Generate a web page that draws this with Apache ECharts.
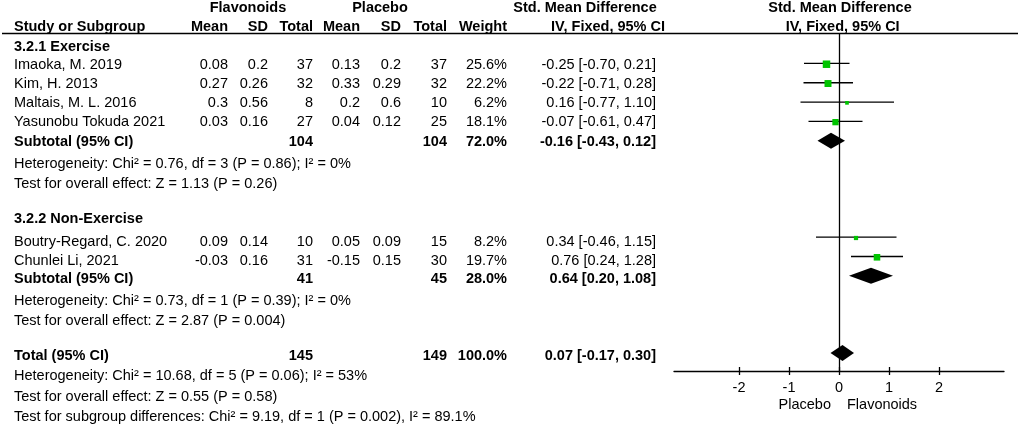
<!DOCTYPE html>
<html>
<head>
<meta charset="utf-8">
<script src="https://cdn.jsdelivr.net/npm/echarts@6/dist/echarts.min.js"></script>
<style>
html,body{margin:0;padding:0;background:#fff;}
#chart{width:1021px;height:426px;}
</style>
</head>
<body>
<div id="chart"></div>
<script>
// ---------- DATA ----------
const studies   = ['Imaoka, M. 2019', 'Kim, H. 2013', 'Maltais, M. L. 2016', 'Yasunobu Tokuda 2021', 'Boutry-Regard, C. 2020', 'Chunlei Li, 2021'];
const studyGroup = [0, 0, 0, 0, 1, 1];
const flavMean  = ['0.08', '0.27', '0.3', '0.03', '0.09', '-0.03'];
const flavSD    = ['0.2', '0.26', '0.56', '0.16', '0.14', '0.16'];
const flavN     = [37, 32, 8, 27, 10, 31];
const placMean  = ['0.13', '0.33', '0.2', '0.04', '0.05', '-0.15'];
const placSD    = ['0.2', '0.29', '0.6', '0.12', '0.09', '0.15'];
const placN     = [37, 32, 10, 25, 15, 30];
const weights   = [25.6, 22.2, 6.2, 18.1, 8.2, 19.7];
const smd       = [-0.25, -0.22, 0.16, -0.07, 0.34, 0.76];
const ciLow     = [-0.70, -0.71, -0.77, -0.61, -0.46, 0.24];
const ciHigh    = [0.21, 0.28, 1.10, 0.47, 1.15, 1.28];

const groupNames   = ['3.2.1 Exercise', '3.2.2 Non-Exercise'];
const subFlavN     = [104, 41];
const subPlacN     = [104, 45];
const subWeight    = [72.0, 28.0];
const subSmd       = [-0.16, 0.64];
const subLow       = [-0.43, 0.20];
const subHigh      = [0.12, 1.08];
const subHetText   = ['Heterogeneity: Chi² = 0.76, df = 3 (P = 0.86); I² = 0%', 'Heterogeneity: Chi² = 0.73, df = 1 (P = 0.39); I² = 0%'];
const subTestText  = ['Test for overall effect: Z = 1.13 (P = 0.26)', 'Test for overall effect: Z = 2.87 (P = 0.004)'];

const totalFlavN = 145, totalPlacN = 149, totalWeight = 100.0;
const totalSmd = 0.07, totalLow = -0.17, totalHigh = 0.30;
const totalTexts = ['Heterogeneity: Chi² = 10.68, df = 5 (P = 0.06); I² = 53%',
                    'Test for overall effect: Z = 0.55 (P = 0.58)',
                    'Test for subgroup differences: Chi² = 9.19, df = 1 (P = 0.002), I² = 89.1%'];

const tickValues = [-2, -1, 0, 1, 2];
const favourLabels = ['Placebo', 'Flavonoids'];
const headers = {
  study: 'Study or Subgroup', flav: 'Flavonoids', plac: 'Placebo', mean: 'Mean', sd: 'SD', total: 'Total',
  weight: 'Weight', smd: 'Std. Mean Difference', method: 'IV, Fixed, 95% CI'
};

// ---------- LAYOUT ----------
const FONT = 'Arial, "Liberation Sans", sans-serif';
const FS = 14.5;
const COL = {name: 14, fMean: 228, fSD: 268, fN: 313, pMean: 360, pSD: 401, pN: 447, w: 507, ci: 656};
const studyTextY = [65, 84, 103.3, 122.3, 241.7, 260.7];
const groupTextY = [46.7, 219];
const subTextY = [141.5, 279];
const subHetY = [164, 300.5];
const subTestY = [183.8, 321];
const totalY = 355.7;
const totalTextY = [376.3, 396.8, 417.3];
const studyRow = [0, 1, 2, 3, 9, 10];
const subRow = [4, 11];
const totalRow = 15;

// ---------- HELPERS ----------
const fmt2 = v => v.toFixed(2);
const ciStr = (m, l, h) => fmt2(m) + ' [' + fmt2(l) + ', ' + fmt2(h) + ']';
const graphics = [];
function txt(s, x, y, align, bold) {
  graphics.push({
    type: 'text', x: x, y: y, silent: true,
    style: {text: String(s), x: 0, y: 0, align: align || 'left', verticalAlign: 'middle',
            fontFamily: FONT, fontSize: FS, fontWeight: bold ? 'bold' : 'normal', fill: '#000'}
  });
}

// headers
txt(headers.flav, 248, 7.8, 'center', true);
txt(headers.plac, 380, 7.8, 'center', true);
txt(headers.smd, 585, 7.8, 'center', true);
txt(headers.smd, 840, 7.8, 'center', true);
txt(headers.study, COL.name, 26.9, 'left', true);
txt(headers.mean, COL.fMean, 26.9, 'right', true);
txt(headers.sd, COL.fSD, 26.9, 'right', true);
txt(headers.total, COL.fN, 26.9, 'right', true);
txt(headers.mean, COL.pMean, 26.9, 'right', true);
txt(headers.sd, COL.pSD, 26.9, 'right', true);
txt(headers.total, COL.pN, 26.9, 'right', true);
txt(headers.weight, COL.w, 26.9, 'right', true);
txt(headers.method, 665, 26.9, 'right', true);
txt(headers.method, 842.7, 26.9, 'center', true);
graphics.push({type: 'line', silent: true, shape: {x1: 2, y1: 33.5, x2: 1018, y2: 33.5},
  style: {stroke: '#000', lineWidth: 1.3}});

// study rows
studies.forEach((s, i) => {
  const y = studyTextY[i];
  txt(s, COL.name, y, 'left');
  txt(flavMean[i], COL.fMean, y, 'right');
  txt(flavSD[i], COL.fSD, y, 'right');
  txt(flavN[i], COL.fN, y, 'right');
  txt(placMean[i], COL.pMean, y, 'right');
  txt(placSD[i], COL.pSD, y, 'right');
  txt(placN[i], COL.pN, y, 'right');
  txt(weights[i].toFixed(1) + '%', COL.w, y, 'right');
  txt(ciStr(smd[i], ciLow[i], ciHigh[i]), COL.ci, y, 'right');
});
// subgroups
groupNames.forEach((g, k) => {
  txt(g, COL.name, groupTextY[k], 'left', true);
  txt('Subtotal (95% CI)', COL.name, subTextY[k], 'left', true);
  txt(subFlavN[k], COL.fN, subTextY[k], 'right', true);
  txt(subPlacN[k], COL.pN, subTextY[k], 'right', true);
  txt(subWeight[k].toFixed(1) + '%', COL.w, subTextY[k], 'right', true);
  txt(ciStr(subSmd[k], subLow[k], subHigh[k]), COL.ci, subTextY[k], 'right', true);
  txt(subHetText[k], COL.name, subHetY[k], 'left');
  txt(subTestText[k], COL.name, subTestY[k], 'left');
});
// total
txt('Total (95% CI)', COL.name, totalY, 'left', true);
txt(totalFlavN, COL.fN, totalY, 'right', true);
txt(totalPlacN, COL.pN, totalY, 'right', true);
txt(totalWeight.toFixed(1) + '%', COL.w, totalY, 'right', true);
txt(ciStr(totalSmd, totalLow, totalHigh), COL.ci, totalY, 'right', true);
totalTexts.forEach((t, i) => txt(t, COL.name, totalTextY[i], 'left'));
// favour labels
txt(favourLabels[0], 831, 404.5, 'right');
txt(favourLabels[1], 847, 404.5, 'left');

// ---------- SERIES DATA ----------
const studyData = studies.map((s, i) => [studyRow[i], ciLow[i], ciHigh[i], smd[i], weights[i]]);
const diamondData = subSmd.map((m, k) => [subRow[k], subLow[k], subHigh[k], m])
  .concat([[totalRow, totalLow, totalHigh, totalSmd]]);

const chart = echarts.init(document.getElementById('chart'), null, {renderer: 'canvas'});
const GRID_H = 337.5;
chart.setOption({
  animation: false,
  backgroundColor: '#fff',
  grid: {left: 674, right: 17, top: 33.5, height: GRID_H, containLabel: false},
  xAxis: [
    {
      type: 'value', min: -3.3, max: 3.3, position: 'bottom', splitLine: {show: false},
      axisLine: {show: true, onZero: false, lineStyle: {color: '#000', width: 1.3}},
      axisTick: {show: true, inside: false, length: 4, customValues: tickValues, lineStyle: {color: '#000', width: 1.3}},
      axisLabel: {show: true, customValues: tickValues, color: '#000', fontSize: FS, fontFamily: FONT, margin: 9}
    },
    {
      type: 'value', min: -3.3, max: 3.3, position: 'top', offset: -GRID_H, splitLine: {show: false},
      axisLine: {show: false, onZero: false},
      axisTick: {show: true, inside: false, length: 4, customValues: tickValues, lineStyle: {color: '#000', width: 1.3}},
      axisLabel: {show: false}
    }
  ],
  yAxis: {type: 'value', inverse: true, min: -1.55, max: 15.93, show: false},
  graphic: graphics,
  series: [
    {
      type: 'line', data: [], xAxisIndex: 0, silent: true,
      markLine: {symbol: 'none', silent: true, label: {show: false},
        lineStyle: {color: '#000', width: 1.3, type: 'solid'},
        data: [{xAxis: 0}]}
    },
    {
      type: 'custom', xAxisIndex: 0, silent: true,
      encode: {x: [1, 2, 3], y: 0},
      data: studyData,
      renderItem: function (params, api) {
        const lo = api.coord([api.value(1), api.value(0)]);
        const hi = api.coord([api.value(2), api.value(0)]);
        const c = api.coord([api.value(3), api.value(0)]);
        const s = 1.48 * Math.sqrt(api.value(4));
        return {type: 'group', children: [
          {type: 'line', shape: {x1: lo[0], y1: lo[1], x2: hi[0], y2: hi[1]}, style: {stroke: '#000', lineWidth: 1.3}},
          {type: 'rect', shape: {x: c[0] - s / 2, y: c[1] - s / 2 + 0.8, width: s, height: s}, style: {fill: '#00C400'}}
        ]};
      }
    },
    {
      type: 'custom', xAxisIndex: 0, silent: true,
      encode: {x: [1, 2, 3], y: 0},
      data: diamondData,
      renderItem: function (params, api) {
        const lo = api.coord([api.value(1), api.value(0)]);
        const hi = api.coord([api.value(2), api.value(0)]);
        const c = api.coord([api.value(3), api.value(0)]);
        const h = 8;
        return {type: 'polygon', shape: {points: [[lo[0], lo[1]], [c[0], c[1] - h], [hi[0], hi[1]], [c[0], c[1] + h]]},
          style: {fill: '#000'}};
      }
    }
  ]
});
</script>
</body>
</html>
